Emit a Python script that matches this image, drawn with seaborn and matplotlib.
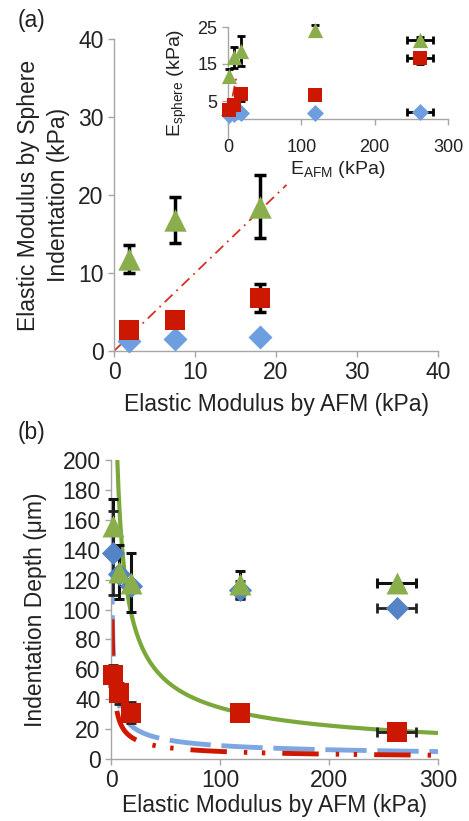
import numpy as np
import pandas as pd
import seaborn as sns
import matplotlib.pyplot as plt

sns.set_theme(style="white")
plt.rcParams['font.family'] = ['Liberation Sans', 'DejaVu Sans']

# colours (Excel-like)
green = "#8aae4c"
red = "#cc1800"
blue_a = "#6d9ee0"
blue_b = "#5584c6"
gray = "#a6a6a6"
txt = "#222222"

# ---- data, panel (a) ----
e_afm = [1.8, 7.5, 18.0]
tri_a = [11.8, 16.8, 18.5]
tri_a_err = [1.8, 2.9, 4.0]
sq_a = [2.7, 4.0, 6.8]
sq_a_err = [0.4, 0.9, 1.8]
dia_a = [1.3, 1.5, 1.8]

# inset (all stiffnesses)
e_afm_all = [1.8, 7.5, 18.0, 118.0, 262.0]
e_afm_xerr = [0, 0, 0, 0, 18]
tri_in = [11.8, 16.8, 18.5, 24.3, 21.5]
tri_in_err = [1.8, 2.9, 4.0, 1.2, 0.8]
sq_in = [2.7, 4.0, 6.8, 6.7, 16.6]
sq_in_err = [0.4, 0.9, 1.8, 0.0, 1.6]
dia_in = [1.3, 1.5, 1.8, 1.8, 1.9]

# ---- data, panel (b) ----
tri_b = [156, 125, 118, 117, 118]
tri_b_err = [18, 18, 20, 9, 0]
dia_b = [138, 124, 116, 113, 101]
dia_b_err = [28, 0, 0, 6, 0]
sq_b = [56, 44, 31, 31, 18]
sq_b_err = [7, 7, 7, 0, 0]

# power-law trendlines y = a * x^-b : (a, b, x start)
fit_green = (594, 0.619, 5.8)
fit_blue = (108, 0.54, 0.7)
fit_red = (93.5, 0.634, 1.0)

fig = plt.figure(figsize=(4.69, 8.21), dpi=100)
W, H = 469, 821
FS = 16.5


def px_axes(l, t, r, b):
    return fig.add_axes([l / W, 1 - b / H, (r - l) / W, (b - t) / H])


def style_axes(ax, size):
    for s in ["top", "right"]:
        ax.spines[s].set_visible(False)
    for s in ["left", "bottom"]:
        ax.spines[s].set_color(gray)
        ax.spines[s].set_linewidth(1.0)
    ax.tick_params(axis="both", direction="out", length=4, width=1,
                   color=gray, labelsize=size, labelcolor=txt,
                   left=True, bottom=True)
    ax.grid(False)


def scatter(ax, x, y, marker, color, size):
    df = pd.DataFrame({"x": x, "y": y})
    sns.scatterplot(data=df, x="x", y="y", ax=ax, marker=marker, color=color,
                    s=size, linewidth=0, zorder=5, clip_on=False, legend=False)


# ================= panel (a) =================
ax = px_axes(114, 39, 438, 351)
style_axes(ax, FS)
ax.plot([0, 21.3], [0, 21.3], ls=(0, (6, 3, 1, 3)), color="#d83020", lw=1.3, zorder=2)
ax.errorbar(e_afm, tri_a, yerr=tri_a_err, fmt="none", ecolor="black",
            elinewidth=2.5, capsize=4, capthick=2.5, zorder=3)
ax.errorbar(e_afm, sq_a, yerr=sq_a_err, fmt="none", ecolor="black",
            elinewidth=2.5, capsize=4, capthick=2.5, zorder=3)
scatter(ax, e_afm, dia_a, "D", blue_a, 150)
scatter(ax, e_afm, sq_a, "s", red, 210)
scatter(ax, e_afm, tri_a, "^", green, 260)
ax.set_xlim(0, 40)
ax.set_ylim(0, 40)
ax.set_xticks([0, 10, 20, 30, 40])
ax.set_yticks([0, 10, 20, 30, 40])
ax.set_xlabel("Elastic Modulus by AFM (kPa)", fontsize=FS, color=txt, labelpad=6)
ax.set_ylabel("Elastic Modulus by Sphere\nIndentation (kPa)", fontsize=FS,
              color=txt, labelpad=6, linespacing=1.35)

# inset
ins = px_axes(228, 27, 448, 138)
style_axes(ins, 13)
ins.patch.set_alpha(0)
ins.spines["bottom"].set_position(("data", 0))
ins.plot([0, 12], [0, 12], ls=(0, (6, 3, 1, 3)), color="#d83020", lw=1.3, zorder=2)
ins.errorbar(e_afm_all, tri_in, yerr=tri_in_err, xerr=e_afm_xerr, fmt="none",
             ecolor="black", elinewidth=2, capsize=3, capthick=2, zorder=3, clip_on=False)
ins.errorbar(e_afm_all, sq_in, yerr=sq_in_err, xerr=e_afm_xerr, fmt="none",
             ecolor="black", elinewidth=2, capsize=3, capthick=2, zorder=3, clip_on=False)
ins.errorbar(e_afm_all, dia_in, xerr=e_afm_xerr, fmt="none",
             ecolor="black", elinewidth=2, capsize=3, capthick=2, zorder=3, clip_on=False)
scatter(ins, e_afm_all, dia_in, "D", blue_a, 75)
scatter(ins, e_afm_all, sq_in, "s", red, 95)
scatter(ins, e_afm_all, tri_in, "^", green, 120)
ins.set_xlim(0, 300)
ins.set_ylim(-5, 25)
ins.set_xticks([0, 100, 200, 300])
ins.set_yticks([5, 15, 25])
ins.tick_params(axis="x", pad=10)
ins.set_xlabel("E$_{\\mathregular{AFM}}$ (kPa)", fontsize=14, color=txt, labelpad=2)
ins.set_ylabel("E$_{\\mathregular{sphere}}$ (kPa)", fontsize=14, color=txt, labelpad=6)

fig.text(18 / W, 1 - 20 / H, "(a)", fontsize=FS, color=txt, va="center")

# ================= panel (b) =================
bx = px_axes(111, 460, 438, 759)
style_axes(bx, FS)

curves = []
for name, (a, b, x0) in [("green", fit_green), ("blue", fit_blue), ("red", fit_red)]:
    xs = np.linspace(x0, 300, 600)
    curves.append(pd.DataFrame({"x": xs, "y": a * xs ** (-b), "fit": name}))
curves = pd.concat(curves)
sns.lineplot(data=curves[curves.fit == "green"], x="x", y="y", ax=bx, color="#7aa83a",
             lw=3, zorder=2, legend=False)
sns.lineplot(data=curves[curves.fit == "blue"], x="x", y="y", ax=bx, color="#7ea7e2",
             lw=3.5, zorder=2, legend=False).lines[-1].set_dashes((8.5, 2.2))
sns.lineplot(data=curves[curves.fit == "red"], x="x", y="y", ax=bx, color="#d01800",
             lw=3.5, zorder=2.1, legend=False).lines[-1].set_dashes((7.5, 3.5, 0.7, 3, 0.7, 3.5))

bx.errorbar(e_afm_all, tri_b, yerr=tri_b_err, xerr=e_afm_xerr, fmt="none", ecolor="#111111",
            elinewidth=2.2, capsize=3.5, capthick=2.2, zorder=3, clip_on=False)
bx.errorbar(e_afm_all, dia_b, yerr=dia_b_err, xerr=e_afm_xerr, fmt="none", ecolor="#222222",
            elinewidth=2.0, capsize=3.5, capthick=2.0, zorder=3, clip_on=False)
bx.errorbar(e_afm_all, sq_b, yerr=sq_b_err, xerr=e_afm_xerr, fmt="none", ecolor="#222222",
            elinewidth=2.0, capsize=3.5, capthick=2.0, zorder=3, clip_on=False)
scatter(bx, e_afm_all, dia_b, "D", blue_b, 140)
scatter(bx, e_afm_all, sq_b, "s", red, 200)
scatter(bx, e_afm_all, tri_b, "^", green, 250)
bx.set_xlim(0, 300)
bx.set_ylim(0, 200)
bx.set_xticks([0, 100, 200, 300])
bx.set_yticks(np.arange(0, 201, 20))
bx.set_xlabel("Elastic Modulus by AFM (kPa)", fontsize=FS, color=txt, labelpad=1)
bx.set_ylabel("Indentation Depth (μm)", fontsize=FS, color=txt, labelpad=11)

fig.text(18 / W, 1 - 432 / H, "(b)", fontsize=FS, color=txt, va="center")

fig.savefig("out.png", dpi=100)
